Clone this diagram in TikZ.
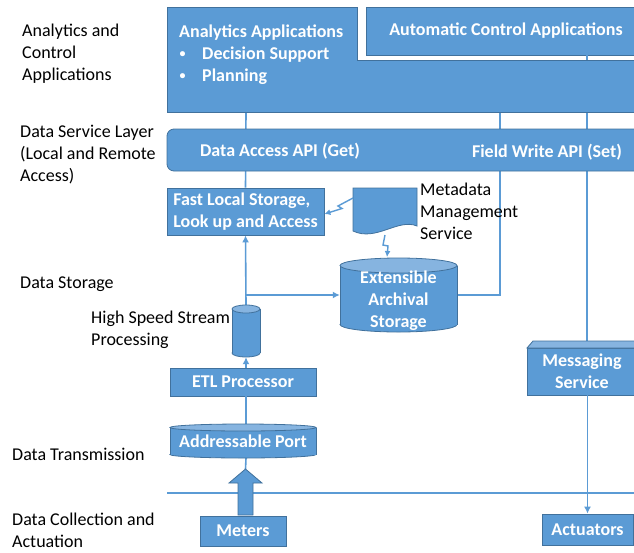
\documentclass[tikz,border=0pt]{standalone}
\usepackage{fontspec}
\setmainfont{Carlito}
\usetikzlibrary{arrows.meta}
\definecolor{bfill}{HTML}{5B9BD5}
\definecolor{bdraw}{HTML}{41719C}
\definecolor{btop}{HTML}{86B4E0}
\tikzset{
  box/.style={fill=bfill,draw=bdraw,line width=0.8pt},
  btext/.style={text=white,font=\bfseries\fontsize{18}{22}\selectfont,inner sep=0pt},
  side/.style={font=\fontsize{18}{22}\selectfont,align=left,anchor=west,inner sep=0pt},
  conn/.style={draw=bfill,line width=1.6pt},
  arr/.style={conn,-{Latex[length=7pt,width=7pt]}},
  cylbox/.style={inner sep=0pt,draw=none}
}
\begin{document}
\begin{tikzpicture}[x=1pt,y=-1pt]
\useasboundingbox (0,0) rectangle (634,552);
\clip (0,0) rectangle (634,552);

% ---------- named anchors
\coordinate (anaS1) at (246,112);
\coordinate (anaS2) at (500,112);
\coordinate (autoS) at (587,55);
\coordinate (msgtop) at (587,342);
\coordinate (busL) at (167,493);
\coordinate (busR) at (640,493);
\coordinate (blktip) at (245.5,469);

% ---------- boxes that define anchors
\node[box,btext,minimum width=157pt,minimum height=47pt,align=left] (fast) at (245.5,211.5) {Fast Local Storage,\\Look up and Access};
\node[cylbox,minimum width=117pt,minimum height=74pt] (arch) at (398.5,295) {};
\node[cylbox,minimum width=28pt,minimum height=52pt] (scyl) at (246,331) {};
\node[box,btext,minimum width=146pt,minimum height=28pt] (etl) at (243,382) {ETL Processor};
\node[cylbox,minimum width=146pt,minimum height=34pt] (port) at (243,441) {};
\node[box,btext,minimum width=110pt,minimum height=47pt,align=center] (msg) at (582,371.5) {Messaging\\Service};
\node[box,btext,minimum width=86pt,minimum height=30pt] (meters) at (243,531) {Meters};
\node[box,btext,minimum width=91pt,minimum height=31pt] (act) at (587.5,529.5) {Actuators};

% ---------- connectors behind
\draw[conn] (anaS1) -- (fast.north);
\draw[conn] (arch.east) -| (anaS2);
\draw[conn] (autoS) -- (msgtop);
\draw[arr] (msg.south -| act) -- (act.north);
\draw[arr] (scyl.north) -- (fast.south);
\coordinate (br) at (arch.west -| scyl);
\draw[arr] (br) -- (arch.west);
\draw[arr] (etl.north -| scyl) -- (scyl.south);
\draw[conn] (etl.south -| scyl) -- (port.north -| scyl);
\draw[conn] (port.south -| scyl) -- (blktip);
\draw[conn] (busL) -- (busR);

% ---------- analytics layer
\path[box] (167,7) -- (357,7) -- (357,60) -- (645,60) -- (645,112) -- (167,112) -- cycle;
\node[btext,anchor=west] (anaT) at (179,33) {Analytics Applications};
\node[btext,anchor=center,font=\bfseries\fontsize{12}{14}\selectfont] (bul1) at (182.5,55) {\textbullet};
\node[btext,anchor=west] (anaB1) at (202,55) {Decision Support};
\node[btext,anchor=center,font=\bfseries\fontsize{12}{14}\selectfont] (bul2) at (182.5,77) {\textbullet};
\node[btext,anchor=west] (anaB2) at (202,77) {Planning};
\node[box,btext,minimum width=280pt,minimum height=48pt] (auto) at (506,31) {Automatic Control Applications};
\draw[conn] (autoS) -- (587,60);

% ---------- data service layer
\node[box,rounded corners=7pt,minimum width=481pt,minimum height=42pt] (dsl) at (407.5,150) {};
\node[btext] (get) at (280,151) {Data Access API (Get)};
\node[btext] (set) at (547,152) {Field Write API (Set)};

% ---------- metadata document
\path[box] (353,188) -- (417,188) -- (417,226) .. controls (398,218) and (376,242) .. (353,231) -- cycle;
\coordinate (docW) at (353,198);
\coordinate (docS) at (385,235);
\draw[conn,line width=1.4pt,-{Latex[length=6pt,width=6pt]}] (docW) -- (338,206) -- (342,208.5) -- (fast.east |- 0,214);
\draw[conn,line width=1.4pt,-{Latex[length=6pt,width=6pt]}] (docS) -- (383,245) -- (388,246) -- (387,257);
\node[side] (metaT) at (420,211) {Metadata\\Management\\Service};

% ---------- archival cylinder
\path[box] (398.5,324.5) ellipse [x radius=58.5,y radius=7.5];
\fill[bfill] (340,265.5) rectangle (457,324.5);
\draw[bdraw,line width=0.8pt] (340,265.5) -- (340,324.5) (457,265.5) -- (457,324.5);
\path[box,fill=btop] (398.5,265.5) ellipse [x radius=58.5,y radius=7.5];
\node[btext,align=center] (archT) at (398.5,301) {Extensible\\Archival\\Storage};

% ---------- small stream cylinder
\path[box] (246,353) ellipse [x radius=14,y radius=4];
\fill[bfill] (232,309) rectangle (260,353);
\draw[bdraw,line width=0.8pt] (232,309) -- (232,353) (260,309) -- (260,353);
\path[box,fill=btop] (246,309) ellipse [x radius=14,y radius=4];

% ---------- addressable port
\path[box] (243,454.5) ellipse [x radius=73,y radius=3.5];
\fill[bfill] (170,427.5) rectangle (316,454.5);
\draw[bdraw,line width=0.8pt] (170,427.5) -- (170,454.5) (316,427.5) -- (316,454.5);
\path[box,fill=btop] (243,427.5) ellipse [x radius=73,y radius=3.5];
\node[btext] (portT) at (243,441) {Addressable Port};

% ---------- messaging top face
\path[box,fill=btop] (527,348) -- (533,341) -- (643,341) -- (637,348) -- cycle;

% ---------- block arrow from meters
\path[box] (238,515) -- (238,483) -- (229,483) -- (blktip) -- (262,483) -- (253,483) -- (253,515) -- cycle;

% ---------- side labels
\node[side] (l1) at (22,54) {Analytics and\\Control\\Applications};
\node[side] (l2) at (20,155) {Data Service Layer\\(Local and Remote\\Access)};
\node[side] (l3) at (20,284) {Data Storage};
\node[side] (l4) at (91,330) {High Speed Stream\\Processing};
\node[side] (l5) at (12,454) {Data Transmission};
\node[side] (l6) at (12,530.5) {Data Collection and\\Actuation};
\end{tikzpicture}
\end{document}
